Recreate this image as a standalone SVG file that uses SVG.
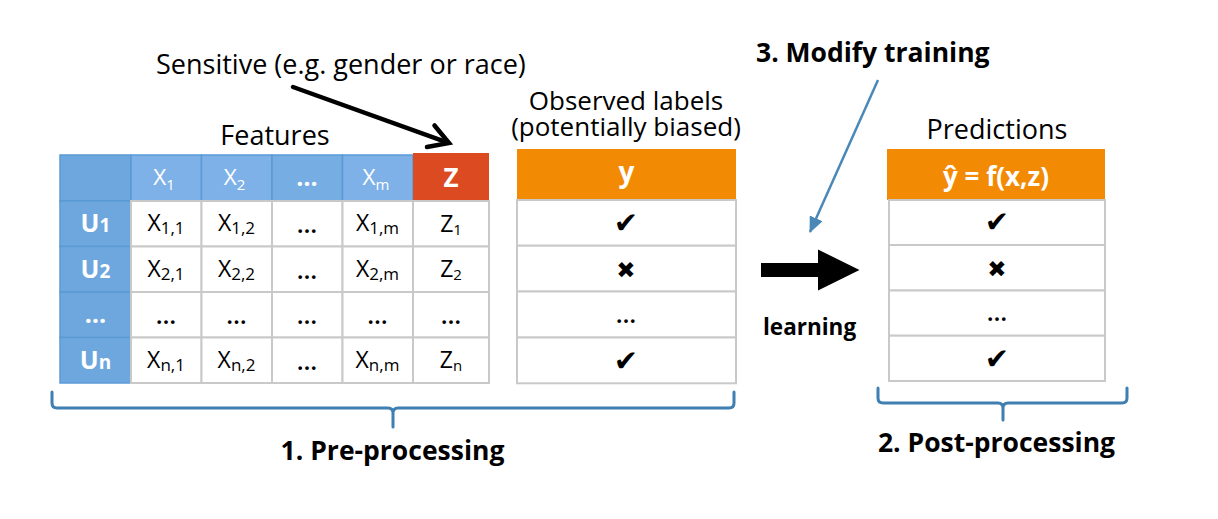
<svg xmlns="http://www.w3.org/2000/svg" width="1218" height="519" viewBox="0 0 1218 519">
<style>
text{font-family:"Open Sans","Liberation Sans",sans-serif;}
.lbl{font-size:27px;fill:#000}
.bl{font-size:26.5px;font-weight:bold;fill:#000}
.cell{fill:#fff;stroke:#c9c9c9;stroke-width:2}
.hb{fill:#7db1e8;stroke:#5b9bd5;stroke-width:1.5}
.ub{fill:#6ea7dd;stroke:#5b9bd5;stroke-width:1.5}
.ct{font-size:23px;text-anchor:middle;fill:#000}
.el{font-size:25px;font-weight:600;text-anchor:middle;fill:#000}
.wt{font-size:22.5px;text-anchor:middle;fill:#fff}
.ut{font-size:25px;font-weight:bold;text-anchor:middle;fill:#fff}
.sym{font-family:"DejaVu Sans",sans-serif;text-anchor:middle;fill:#000}
.brace{fill:none;stroke:#3f7fb1;stroke-width:3;stroke-linejoin:round;stroke-linecap:round}
</style>
<defs>
<marker id="blueHead" markerUnits="userSpaceOnUse" markerWidth="16" markerHeight="14" refX="15" refY="7" orient="auto">
<path d="M0,0 L16,7 L0,14 Z" fill="#4a88b8"/>
</marker>
</defs>
<rect width="1218" height="519" fill="#fff"/>

<g id="sensitive-label"><text class="lbl" x="156" y="74">Sensitive (e.g. gender or race)</text></g>
<g id="features-label"><text class="lbl" x="275" y="145" text-anchor="middle">Features</text></g>
<g id="observed-label">
<text class="lbl" text-anchor="middle" style="font-size:26px"><tspan x="626" y="109.5">Observed labels</tspan><tspan x="626" y="136">(potentially biased)</tspan></text>
</g>
<g id="modify-label"><text class="bl" x="756" y="61.5">3. Modify training</text></g>
<g id="predictions-label"><text class="lbl" x="997" y="139" text-anchor="middle">Predictions</text></g>
<g id="learning-label"><text class="bl" x="763" y="335" style="font-size:22.5px">learning</text></g>

<g id="features-table">
<rect class="ub" x="60" y="155" width="71" height="46"/>
<rect class="hb" x="131" y="155" width="70.5" height="46"/>
<rect class="hb" x="201.5" y="155" width="70.5" height="46"/>
<rect class="hb" x="272" y="155" width="70.5" height="46" style="fill:#76ade3"/>
<rect class="hb" x="342.5" y="155" width="70.5" height="46"/>
<rect class="ub" x="60" y="201" width="71" height="45.5"/>
<rect class="ub" x="60" y="246.5" width="71" height="45.5"/>
<rect class="ub" x="60" y="292" width="71" height="45.5"/>
<rect class="ub" x="60" y="337.5" width="71" height="45.5"/>
<g>
<rect class="cell" x="131" y="201" width="70.5" height="45.5"/><rect class="cell" x="201.5" y="201" width="70.5" height="45.5"/><rect class="cell" x="272" y="201" width="70.5" height="45.5"/><rect class="cell" x="342.5" y="201" width="70.5" height="45.5"/>
<rect class="cell" x="131" y="246.5" width="70.5" height="45.5"/><rect class="cell" x="201.5" y="246.5" width="70.5" height="45.5"/><rect class="cell" x="272" y="246.5" width="70.5" height="45.5"/><rect class="cell" x="342.5" y="246.5" width="70.5" height="45.5"/>
<rect class="cell" x="131" y="292" width="70.5" height="45.5"/><rect class="cell" x="201.5" y="292" width="70.5" height="45.5"/><rect class="cell" x="272" y="292" width="70.5" height="45.5"/><rect class="cell" x="342.5" y="292" width="70.5" height="45.5"/>
<rect class="cell" x="131" y="337.5" width="70.5" height="45.5"/><rect class="cell" x="201.5" y="337.5" width="70.5" height="45.5"/><rect class="cell" x="272" y="337.5" width="70.5" height="45.5"/><rect class="cell" x="342.5" y="337.5" width="70.5" height="45.5"/>
</g>
<text class="wt" x="164" y="185">X<tspan font-size="15" dy="5">1</tspan></text>
<text class="wt" x="234.5" y="185">X<tspan font-size="15" dy="5">2</tspan></text>
<text class="wt" x="307" y="186" style="font-weight:bold;font-size:25px">…</text>
<text class="wt" x="376" y="185">X<tspan font-size="15" dy="5">m</tspan></text>
<text class="ut" x="95.5" y="232">U<tspan font-size="19">1</tspan></text>
<text class="ut" x="95.5" y="278">U<tspan font-size="19">2</tspan></text>
<text class="ut" x="95.5" y="323">…</text>
<text class="ut" x="95.5" y="369">U<tspan font-size="19">n</tspan></text>
<text class="ct" x="166" y="231">X<tspan font-size="17" dy="3">1,1</tspan></text>
<text class="ct" x="236.5" y="231">X<tspan font-size="17" dy="3">1,2</tspan></text>
<text class="el" x="307" y="233">…</text>
<text class="ct" x="377.5" y="231">X<tspan font-size="17" dy="3">1,m</tspan></text>
<text class="ct" x="166" y="276.5">X<tspan font-size="17" dy="3">2,1</tspan></text>
<text class="ct" x="236.5" y="276.5">X<tspan font-size="17" dy="3">2,2</tspan></text>
<text class="el" x="307" y="278.5">…</text>
<text class="ct" x="377.5" y="276.5">X<tspan font-size="17" dy="3">2,m</tspan></text>
<text class="el" x="166" y="324">…</text>
<text class="el" x="236.5" y="324">…</text>
<text class="el" x="307" y="324">…</text>
<text class="el" x="377.5" y="324">…</text>
<text class="ct" x="166" y="367.5">X<tspan font-size="17" dy="3">n,1</tspan></text>
<text class="ct" x="236.5" y="367.5">X<tspan font-size="17" dy="3">n,2</tspan></text>
<text class="el" x="307" y="369.5">…</text>
<text class="ct" x="377.5" y="367.5">X<tspan font-size="17" dy="3">n,m</tspan></text>
</g>

<g id="sensitive-column">
<rect x="413" y="153" width="76" height="48" fill="#dc4a22"/>
<text x="451" y="186.5" text-anchor="middle" style="font-size:26px;font-weight:bold;fill:#fff">Z</text>
<rect class="cell" x="413" y="201" width="76" height="45.5"/>
<rect class="cell" x="413" y="246.5" width="76" height="45.5"/>
<rect class="cell" x="413" y="292" width="76" height="45.5"/>
<rect class="cell" x="413" y="337.5" width="76" height="45.5"/>
<text class="ct" x="451" y="231.5">Z<tspan font-size="15" dy="3">1</tspan></text>
<text class="ct" x="451" y="277">Z<tspan font-size="15" dy="3">2</tspan></text>
<text class="el" x="451" y="324">…</text>
<text class="ct" x="451" y="367.5">Z<tspan font-size="15" dy="3">n</tspan></text>
</g>

<g id="labels-table">
<rect x="517" y="149" width="219" height="51" fill="#f38a04"/>
<text x="626.5" y="182" text-anchor="middle" style="font-size:28px;font-weight:bold;fill:#fff">y</text>
<rect class="cell" x="517" y="200" width="219" height="45.7"/>
<rect class="cell" x="517" y="245.7" width="219" height="45.8"/>
<rect class="cell" x="517" y="291.5" width="219" height="46"/>
<rect class="cell" x="517" y="337.5" width="219" height="45.8"/>
<text class="sym" x="626" y="233" font-size="29">✔</text>
<text class="sym" x="626" y="278" font-size="23">✖</text>
<text class="el" x="626" y="323">…</text>
<text class="sym" x="626" y="370.5" font-size="29">✔</text>
</g>

<g id="predictions-table">
<rect x="887" y="149" width="218" height="51" fill="#f38a04"/>
<text x="996" y="186" text-anchor="middle" style="font-size:26px;font-weight:bold;fill:#fff">ŷ = f(x,z)</text>
<rect class="cell" x="889" y="200" width="216" height="45"/>
<rect class="cell" x="889" y="245" width="216" height="45.5"/>
<rect class="cell" x="889" y="290.5" width="216" height="45.2"/>
<rect class="cell" x="889" y="335.7" width="216" height="45.3"/>
<text class="sym" x="997" y="232" font-size="29">✔</text>
<text class="sym" x="997" y="277" font-size="23">✖</text>
<text class="el" x="997" y="321">…</text>
<text class="sym" x="997" y="368.5" font-size="29">✔</text>
</g>

<g id="connectors">
<line x1="293" y1="87" x2="447" y2="142.3" stroke="#000" stroke-width="4.5" stroke-linecap="round"/>
<polyline points="434.5,125.5 449,143 427,147" fill="none" stroke="#000" stroke-width="4.5" stroke-linecap="round" stroke-linejoin="miter"/>
<line x1="878" y1="80" x2="810" y2="232" stroke="#4a88b8" stroke-width="2.5" marker-end="url(#blueHead)"/>
<polygon points="761,263 818,263 818,249.5 859.5,270 818,290.5 818,277 761,277" fill="#000"/>
</g>

<g id="pre-processing">
<path class="brace" d="M52,392 L52,403 Q52,408 57,408 L388,408 Q393,408 393,413 L393,427 M393,413 Q393,408 398,408 L729,408 Q734,408 734,403 L734,392"/>
<text class="bl" x="392.5" y="460" text-anchor="middle">1. Pre-processing</text>
</g>
<g id="post-processing">
<path class="brace" d="M878,388 L878,398 Q878,403 883,403 L998,403 Q1003,403 1003,408 L1003,420 M1003,408 Q1003,403 1008,403 L1122,403 Q1127,403 1127,398 L1127,388"/>
<text class="bl" x="996.5" y="452" text-anchor="middle">2. Post-processing</text>
</g>
</svg>
